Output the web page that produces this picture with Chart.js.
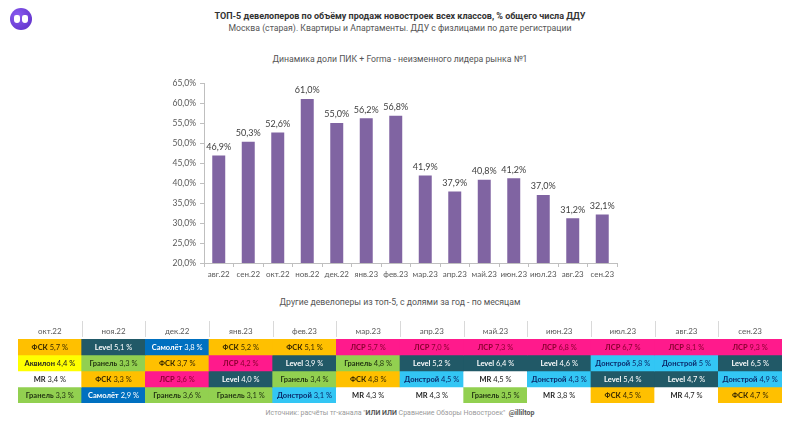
<!DOCTYPE html>
<html>
<head>
<meta charset="utf-8">
<script src="https://cdn.jsdelivr.net/npm/chart.js@4.4.0/dist/chart.umd.min.js"></script>
<style>
  body { margin: 0; background: #fff; width: 800px; height: 431px; position: relative; overflow: hidden; font-family: Roboto, sans-serif; }
  .txt { position: absolute; left: 0; width: 800px; text-align: center; white-space: nowrap; }
  #logo { position: absolute; left: 10px; top: 8px; width: 22px; height: 22px; border-radius: 50%;
          background: radial-gradient(circle at 35% 35%, #8a5cf0, #5a2bc4); }
  #logo span { position: absolute; top: 7px; width: 6px; height: 8px; background: #fff; border-radius: 3px 3px 4px 4px; }
  canvas { position: absolute; }
</style>
</head>
<body>
<div id="logo"><span style="left:4px"></span><span style="left:12px"></span></div>
<div class="txt" style="top:11px;font-size:9px;font-weight:bold;color:#333">ТОП-5 девелоперов по объёму продаж новостроек всех классов, % общего числа ДДУ</div>
<div class="txt" style="top:23px;font-size:8.7px;color:#555">Москва (старая). Квартиры и Апартаменты. ДДУ с физлицами по дате регистрации</div>
<div class="txt" style="top:54px;font-size:8.7px;color:#555">Динамика доли ПИК + Forma - неизменного лидера рынка №1</div>
<div class="txt" style="top:297px;font-size:8.7px;color:#555">Другие девелоперы из топ-5, с долями за год - по месяцам</div>
<div class="txt" style="top:409px;font-size:7px;color:#999">Источник: расчёты тг-канала "<b style="color:#555">ИЛИ ИЛИ</b> Сравнение Обзоры Новостроек" &nbsp;<b style="color:#555">@illiltop</b></div>

<canvas id="pikChart" width="472" height="220" style="left:150px;top:68px"></canvas>
<canvas id="topChart" width="764" height="85" style="left:18px;top:318px"></canvas>

<script>
// доля ПИК + Forma
const pikMonths = ['авг.22', 'сен.22', 'окт.22', 'нов.22', 'дек.22', 'янв.23', 'фев.23', 'мар.23', 'апр.23', 'май.23', 'июн.23', 'июл.23', 'авг.23', 'сен.23'];
const pikShare = [46.9, 50.3, 52.6, 61.0, 55.0, 56.2, 56.8, 41.9, 37.9, 40.8, 41.2, 37.0, 31.2, 32.1];

// другие девелоперы топ-5
const tableMonths = ['окт.22', 'ноя.22', 'дек.22', 'янв.23', 'фев.23', 'мар.23', 'апр.23', 'май.23', 'июн.23', 'июл.23', 'авг.23', 'сен.23'];
const row1Dev = ['ФСК', 'Level', 'Самолёт', 'ФСК', 'ФСК', 'ЛСР', 'ЛСР', 'ЛСР', 'ЛСР', 'ЛСР', 'ЛСР', 'ЛСР'];
const row1Share = ['5,7', '5,1', '3,8', '5,2', '5,1', '5,7', '7,0', '7,3', '6,8', '6,7', '8,1', '9,3'];
const row2Dev = ['Аквилон', 'Гранель', 'ФСК', 'ЛСР', 'Level', 'Гранель', 'Level', 'Level', 'Level', 'Донстрой', 'Донстрой', 'Level'];
const row2Share = ['4,4', '3,3', '3,7', '4,2', '3,9', '4,8', '5,2', '6,4', '4,6', '5,8', '5', '6,5'];
const row3Dev = ['MR', 'ФСК', 'ЛСР', 'Level', 'Гранель', 'ФСК', 'Донстрой', 'MR', 'Донстрой', 'Level', 'Level', 'Донстрой'];
const row3Share = ['3,4', '3,3', '3,6', '4,0', '3,4', '4,8', '4,5', '4,5', '4,3', '5,4', '4,7', '4,9'];
const row4Dev = ['Гранель', 'Самолёт', 'Гранель', 'Гранель', 'Донстрой', 'MR', 'MR', 'Гранель', 'MR', 'ФСК', 'MR', 'ФСК'];
const row4Share = ['3,3', '2,9', '3,6', '3,1', '3,1', '4,3', '4,3', '3,5', '3,8', '4,5', '4,7', '4,7'];

const devColors = {
    'ФСК':      { bg: '#ffc000', fg: '#3a2a00' },
    'Level':    { bg: '#215967', fg: '#ffffff' },
    'Самолёт':  { bg: '#0070c0', fg: '#ffffff' },
    'ЛСР':      { bg: '#ff1a8c', fg: '#8b0030' },
    'Аквилон':  { bg: '#ffff00', fg: '#222222' },
    'Гранель':  { bg: '#92d050', fg: '#1f2f10' },
    'MR':       { bg: '#ffffff', fg: '#222222' },
    'Донстрой': { bg: '#33c6f4', fg: '#0b2a6a' }
};

const fmtPct = v => v.toFixed(1).replace('.', ',') + '%';

const barLabels = {
    id: 'barLabels',
    afterDatasetsDraw(chart) {
        const ctx = chart.ctx;
        ctx.save();
        ctx.font = '9px Lato';
        ctx.fillStyle = '#404040';
        ctx.textAlign = 'center';
        ctx.textBaseline = 'bottom';
        chart.getDatasetMeta(0).data.forEach((bar, i) => {
            ctx.fillText(fmtPct(pikShare[i]), bar.x, bar.y - 4);
        });
        ctx.restore();
    }
};

new Chart(document.getElementById('pikChart'), {
    type: 'bar',
    data: {
        labels: pikMonths,
        datasets: [{
            data: pikShare,
            backgroundColor: '#8064a2',
            barPercentage: 0.44,
            categoryPercentage: 1
        }]
    },
    options: {
        responsive: false,
        animation: false,
        layout: { padding: { top: 15, right: 5, left: 0, bottom: 0 } },
        plugins: { legend: { display: false }, tooltip: { enabled: false } },
        scales: {
            y: {
                min: 20, max: 65,
                afterFit: s => { s.width = 54; },
                ticks: { stepSize: 5, callback: v => fmtPct(v), font: { family: 'Lato', size: 8.5 }, color: '#595959', padding: 4 },
                grid: { drawOnChartArea: false, tickLength: 4, color: '#bfbfbf' },
                border: { color: '#bfbfbf' }
            },
            x: {
                afterFit: s => { s.height = 25; },
                ticks: { font: { family: 'Lato', size: 8 }, color: '#595959', maxRotation: 0, autoSkip: false, padding: 3 },
                grid: { offset: true, drawOnChartArea: false, tickLength: 4, color: '#bfbfbf' },
                border: { color: '#bfbfbf' }
            }
        }
    },
    plugins: [barLabels]
});

const rowsDev = [row1Dev, row2Dev, row3Dev, row4Dev];
const rowsShare = [row1Share, row2Share, row3Share, row4Share];

const cellText = {
    id: 'cellText',
    afterDatasetsDraw(chart) {
        const ctx = chart.ctx;
        const xs = chart.scales.x;
        const top = chart.chartArea.top;
        ctx.save();
        // шапка: разделители и месяцы
        ctx.strokeStyle = '#d9d9d9';
        ctx.lineWidth = 1;
        for (let i = 1; i < tableMonths.length; i++) {
            const x = Math.round((xs.getPixelForValue(i - 1) + xs.getPixelForValue(i)) / 2) + 0.5;
            ctx.beginPath();
            ctx.moveTo(x, 3);
            ctx.lineTo(x, top - 2);
            ctx.stroke();
        }
        ctx.font = '8px Lato';
        ctx.fillStyle = '#595959';
        ctx.textAlign = 'center';
        ctx.textBaseline = 'middle';
        tableMonths.forEach((m, i) => ctx.fillText(m, xs.getPixelForValue(i), top - 8));

        ctx.textAlign = 'left';
        rowsDev.forEach((devs, r) => {
            chart.getDatasetMeta(r).data.forEach((cell, i) => {
                const name = devs[i];
                const val = ' ' + rowsShare[r][i] + ' %';
                ctx.font = 'bold 7.5px Lato';
                const w1 = ctx.measureText(name).width;
                ctx.font = '7.5px Lato';
                const w2 = ctx.measureText(val).width;
                const x0 = cell.x - (w1 + w2) / 2;
                const y = (cell.y + cell.base) / 2 + 0.5;
                ctx.fillStyle = devColors[name].fg;
                ctx.font = 'bold 7.5px Lato';
                ctx.fillText(name, x0, y);
                ctx.font = '7.5px Lato';
                ctx.fillText(val, x0 + w1, y);
            });
        });
        ctx.restore();
    }
};

new Chart(document.getElementById('topChart'), {
    type: 'bar',
    data: {
        labels: tableMonths,
        datasets: rowsDev.map((devs, r) => ({
            data: devs.map(() => [r, r + 1]),
            backgroundColor: devs.map(n => devColors[n].bg),
            borderWidth: 0,
            barPercentage: 1,
            categoryPercentage: 1,
            grouped: false
        }))
    },
    options: {
        responsive: false,
        animation: false,
        layout: { padding: 0 },
        plugins: { legend: { display: false }, tooltip: { enabled: false } },
        scales: {
            x: {
                position: 'top',
                afterFit: s => { s.height = 21; },
                ticks: { display: false },
                grid: { display: false },
                border: { display: false }
            },
            y: { display: false, min: 0, max: 4, reverse: true }
        }
    },
    plugins: [cellText]
});
</script>
</body>
</html>
